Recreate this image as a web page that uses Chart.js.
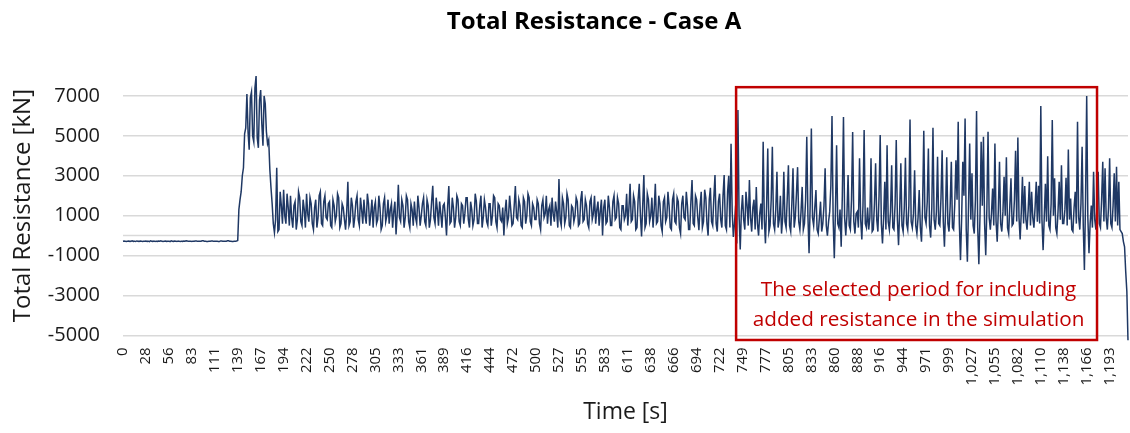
<!DOCTYPE html>
<html>
<head>
<meta charset="utf-8">
<title>Total Resistance - Case A</title>
<script src="https://cdn.jsdelivr.net/npm/chart.js@4"></script>
<style>
  html, body { margin: 0; padding: 0; background: #fff; }
</style>
</head>
<body>
<canvas id="resChart" width="1130" height="433"></canvas>
<script>
// x axis shows one label every 20 samples
const xTickLabels = ["0", "28", "56", "83", "111", "139", "167", "194", "222", "250", "278",
  "305", "333", "361", "389", "416", "444", "472", "500", "527", "555", "583", "611", "638",
  "666", "694", "722", "749", "777", "805", "833", "860", "888", "916", "944", "971", "999",
  "1,027", "1,055", "1,082", "1,110", "1,138", "1,166", "1,193"];
const ptsPerLabel = 20;

const yTicks = [-5000, -3000, -1000, 1000, 3000, 5000, 7000];

// total resistance [kN] (20 samples per label step)
const resistance = [
  -280, -270, -290, -300, -280, -270, -290, -280, -260, -290, -280, -300, -270, -280, -290, -270, -280, -300, -290, -280,
  -270, -290, -280, -300, -260, -280, -290, -270, -300, -280, -290, -270, -280, -260, -290, -300, -280, -270, -290, -280,
  -280, -300, -260, -280, -290, -270, -280, -300, -270, -290, -300, -280, -290, -270, -280, -260, -270, -290, -290, -280,
  -300, -280, -280, -270, -270, -290, -290, -280, -280, -260, -260, -290, -290, -300, -300, -280, -280, -270, -270, -290,
  -290, -280, -280, -300, -300, -270, -270, -280, -280, -290, -290, -260, -260, -280, -280, -300, -300, -280, -280, -270,
  -250, 1300, 1800, 2200, 3000, 3400, 5100, 5400, 7100, 5200, 4300, 6900, 7200, 5000, 4700, 7400, 8000, 4900, 4400, 6800,
  7300, 5600, 4500, 7000, 6600, 5200, 4600, 4800, 3300, 2400, 1600, 600, 150, 800, 3400, 200, 300, 2200, 1500, 600,
  2300, 1000, 600, 2100, 1400, 500, 2000, 900, 400, 1500, 1700, 300, 800, 2200, 1900, 700, 500, 1800, 1300, 400,
  2100, 1100, 700, 1900, 1600, 600, 300, 1400, 1800, 400, 900, 2000, 2200, 600, 500, 1700, 2000, 900, 800, 1600,
  1700, 500, 400, 1800, 1500, 700, 1000, 2100, 1900, 400, 600, 1600, 1400, 800, 300, 1200, 2700, 500, 700, 1900,
  1500, 400, 900, 1700, 2000, 800, 500, 1900, 1300, 600, 1800, 1000, 600, 2100, 1600, 500, 1100, 1800, 400, 1400,
  1700, 600, 800, 2000, 1400, 300, 500, 1600, 1900, 700, 1000, 1800, 600, 1300, 1600, 400, 1200, 1700, 50, 1100,
  2550, 900, 700, 1800, 1500, 400, 900, 2000, 1800, 700, 400, 1600, 1300, 500, 1700, 900, 600, 2000, 1400, 500,
  1000, 1600, 1900, 700, 500, 1800, 1500, 400, 800, 1700, 2500, 900, 600, 1900, 1300, 500, 1700, 1100, 400, 1500,
  1600, 900, 0, 1500, 2480, 600, 700, 1900, 1400, 400, 900, 2000, 1800, 700, 500, 1600, 1500, 600, 1100, 1900,
  1900, 800, 400, 1700, 1300, 500, 800, 2100, 1700, 600, 600, 1500, 2000, 400, 900, 1800, 1400, 700, 500, 1600,
  1600, 500, 1000, 2000, 1900, 700, 400, 1600, 1500, 800, 700, 1400, 0, 1200, 1800, 600, 900, 2000, 1300, 500,
  600, 1500, 2480, 900, 800, 1800, 1500, 500, 400, 1900, 1700, 600, 1000, 2100, 1900, 700, 500, 1600, 1400, 800,
  800, 1800, 1600, 600, 300, 1500, 1800, 900, 1100, 2000, 600, 1300, 1500, 500, 1900, 1100, 700, 1700, 1200, 400,
  2830, 800, 500, 1900, 1600, 600, 900, 2100, 1800, 500, 400, 1500, 1400, 700, 1000, 1900, 1700, 500, 600, 1800,
  2230, 700, 800, 1800, 1500, 600, 400, 1700, 1900, 800, 1100, 2000, 600, 1300, 1700, 500, 1200, 1800, 0, 1400,
  1800, 600, 700, 2000, 1400, 500, 500, 1700, 2000, 800, 900, 1900, 1600, 400, 300, 1500, 1500, 800, 1000, 2100,
  500, 1400, 2600, 700, 800, 2000, 1700, 300, 400, 1800, 2600, 1000, -50, 1500, 3030, 400, 600, 2100, 1800, 700,
  1000, 1900, 400, 1300, 2600, 600, 700, 2000, 1600, 500, 200, 1700, 1900, 700, 900, 2200, 1500, 400, 300, 1800,
  2100, 700, 600, 1900, 1700, 400, 100, 1600, 2000, 900, 800, 2200, 1500, 300, 300, 1700, 2780, 600, 500, 2000,
  1800, 900, 270, 1500, 2200, 400, 700, 2300, 1900, 600, 0, 1800, 2400, 700, 500, 1900, 3030, 600, 200, 1700,
  2100, 800, 400, 2000, 3030, 500, 300, 2200, 3000, 400, 4600, 1200, -70, 600, 1500, -400, 6300, 1000, -700, 1200,
  2030, 800, 300, 2200, 1500, 500, 2780, 900, 200, 1400, 1800, 300, 2440, 600, 0, 1100, 1600, 300, 4700, 800,
  -390, 1500, 4370, 200, 500, 1800, 4450, 600, 300, 1300, 3200, 400, 800, 2000, 100, 900, 3200, 700, 400, 1900,
  3530, 500, 200, 1600, 3380, 400, 900, 2100, 3430, 700, 300, 1200, 2440, 300, 600, 1800, 4950, 1000, -880, 1600,
  5370, 900, 500, 1400, 2280, 300, 100, 900, 1700, 200, 600, 1500, 3380, 500, 0, 700, 1200, 2500, 5990, 800,
  -1130, 1200, 4530, 600, 400, 1300, -560, 2000, 5950, 900, 0, 1000, 3030, 500, 300, 1800, 5190, 700, 100, 1100,
  1200, 400, 3870, 800, -200, 1500, 5290, 600, 400, 1400, 300, 900, 3870, 200, 300, 1600, 3620, 800, 200, 2000,
  5040, 600, -390, 900, 2700, 300, 4530, 700, 300, 1200, 3530, 400, 300, 1600, 4790, 800, -480, 1300, 3630, 500,
  200, 1400, 3900, 600, 300, 1500, 5820, 700, 400, 1100, 3280, 500, 100, 900, 2280, 400, -310, 1600, 5250, 900,
  600, 1700, 4370, 500, -100, 1400, 5400, 800, 300, 1200, 3950, 600, 500, 1900, 4280, 700, -560, 1300, 3920, 600,
  200, 1500, 3700, 400, 300, 1600, 3780, 1800, 5700, 600, -1230, 900, 3700, 2000, 5870, 300, -1310, 1500, 4620, 800,
  3120, 500, 100, 1800, 6250, 400, -1440, 1000, 4700, 1500, 4950, 600, -980, 1400, 5200, 900, 300, 1100, 2360, 500,
  4620, 700, -310, 1300, 3700, 600, 200, 1200, 2950, 1000, 3920, 400, 100, 1500, 2870, 500, 600, 1800, 4250, 700,
  4920, 900, -200, 1200, 2950, 600, 2480, 800, 300, 1300, 2700, 500, 2200, 900, 400, 1400, 2700, 700, 2500, 600,
  6500, 800, -730, 900, 2600, 700, 3980, 500, 300, 1600, 5790, 1000, 2870, 400, 100, 1200, 2700, 800, 3530, 600,
  600, 1300, 2900, 500, 4320, 800, 1860, 300, 200, 1400, 2200, 600, 5700, 900, 300, 1600, 4450, 500, -1730, 1800,
  7000, 900, -890, 600, 1500, 400, 3200, 800, 300, 1500, 3200, 600, 400, 1800, 3700, 700, 3370, 900, 300, 1400,
  3870, 600, 400, 1500, 3120, 700, 3450, 500, 2700, 300, 200, 100, -300, -560, -1800, -2800, -5300
];

const xLabels = resistance.map((_, i) =>
  i % ptsPerLabel === 0 ? (xTickLabels[i / ptsPerLabel] || "") : "");

// highlighted window, in sample index / kN
const periodBox = { from: 534.4, to: 849, top: 7440, bottom: -5235 };
const periodNote = ["The selected period for including", "added resistance in the simulation"];
const chartTitle = "Total Resistance - Case A";

const gridGrey = "#d9d9d9";
const textCol = "#1a1a1a";

Chart.defaults.font.family = "'Open Sans', sans-serif";

// Excel draws the category axis at y = 0
const zeroLine = {
  id: "zeroLine",
  beforeDatasetsDraw(chart) {
    const { ctx, chartArea, scales } = chart;
    const y0 = scales.y.getPixelForValue(0);
    ctx.save();
    ctx.strokeStyle = gridGrey;
    ctx.lineWidth = 1.5;
    ctx.beginPath();
    ctx.moveTo(chartArea.left, y0);
    ctx.lineTo(chartArea.right, y0);
    ctx.stroke();
    ctx.restore();
  }
};

const periodMarker = {
  id: "periodMarker",
  afterDatasetsDraw(chart) {
    const { ctx, scales: { x, y } } = chart;
    const l = x.getPixelForValue(periodBox.from);
    const r = x.getPixelForValue(periodBox.to);
    const t = y.getPixelForValue(periodBox.top);
    const b = y.getPixelForValue(periodBox.bottom);
    ctx.save();
    ctx.strokeStyle = "#c00000";
    ctx.lineWidth = 2.5;
    ctx.strokeRect(l, t, r - l, b - t);
    ctx.fillStyle = "#c00000";
    ctx.font = "20.7px 'Open Sans'";
    ctx.textAlign = "center";
    ctx.textBaseline = "middle";
    const cx = (l + r) / 2 + 2;
    ctx.fillText(periodNote[0], cx, b - 50);
    ctx.fillText(periodNote[1], cx, b - 20);
    ctx.restore();
  }
};

// title sits a bit right of the canvas centre, as in the Excel original
const titleText = {
  id: "titleText",
  afterDraw(chart) {
    const { ctx } = chart;
    ctx.save();
    ctx.fillStyle = "#000";
    ctx.font = "bold 24px 'Open Sans'";
    ctx.textAlign = "center";
    ctx.textBaseline = "middle";
    ctx.fillText(chartTitle, 594, 22);
    ctx.restore();
  }
};

new Chart(document.getElementById("resChart").getContext("2d"), {
  type: "line",
  data: {
    labels: xLabels,
    datasets: [{
      data: resistance,
      borderColor: "#1f3864",
      borderWidth: 1.5,
      pointRadius: 0,
      tension: 0,
      fill: false,
      clip: 5
    }]
  },
  options: {
    responsive: false,
    animation: false,
    devicePixelRatio: 1,
    layout: { padding: { left: 0, right: 2, top: 76, bottom: 0 } },
    plugins: {
      legend: { display: false },
      tooltip: { enabled: false },
      title: { display: false }
    },
    scales: {
      x: {
        type: "category",
        grid: { display: false, drawTicks: false },
        border: { display: false },
        afterBuildTicks: (scale) => {
          scale.ticks = scale.ticks.filter(t => t.value % ptsPerLabel === 0);
        },
        afterFit: (scale) => {
          scale.height = 97.7;
          scale.paddingLeft = 0;
          scale.paddingRight = 0;
        },
        ticks: {
          autoSkip: false,
          minRotation: 90,
          maxRotation: 90,
          padding: 12,
          color: textCol,
          font: { size: 15 }
        },
        title: {
          display: true,
          text: "Time [s]",
          color: textCol,
          font: { size: 23 },
          padding: { top: 0, bottom: 7 }
        }
      },
      y: {
        min: -5000,
        max: 8000,
        afterBuildTicks: (scale) => {
          scale.ticks = yTicks.map(v => ({ value: v }));
        },
        afterFit: (scale) => { scale.width = 123; },
        grid: { color: gridGrey, lineWidth: 1.5, drawTicks: false },
        border: { display: false },
        ticks: {
          padding: 23,
          color: textCol,
          font: { size: 20 },
          callback: (v) => String(v)
        },
        title: {
          display: true,
          text: "Total Resistance [kN]",
          color: textCol,
          font: { size: 24 },
          padding: { top: 9, bottom: 0 }
        }
      }
    }
  },
  plugins: [zeroLine, periodMarker, titleText]
});
</script>
</body>
</html>
